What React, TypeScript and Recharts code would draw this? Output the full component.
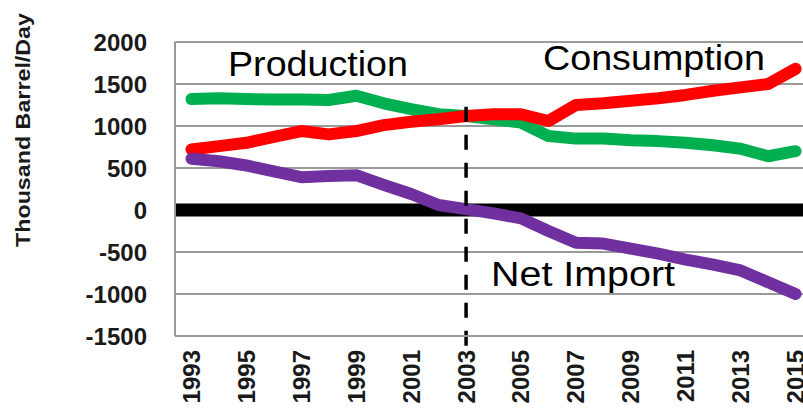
import React from 'react';
import { LineChart, Line, XAxis, YAxis, CartesianGrid, ReferenceLine } from 'recharts';

const years = [1993, 1994, 1995, 1996, 1997, 1998, 1999, 2000, 2001, 2002, 2003, 2004, 2005, 2006, 2007, 2008, 2009, 2010, 2011, 2012, 2013, 2014, 2015];
const production = [1320, 1330, 1320, 1315, 1315, 1310, 1360, 1270, 1200, 1140, 1120, 1080, 1040, 880, 850, 850, 830, 820, 800, 770, 730, 640, 700];
const consumption = [720, 760, 800, 870, 940, 900, 940, 1010, 1050, 1080, 1120, 1140, 1140, 1060, 1250, 1270, 1300, 1330, 1370, 1420, 1460, 1500, 1680];
const netImport = [610, 580, 530, 460, 390, 405, 415, 300, 190, 60, 10, -40, -100, -250, -390, -400, -460, -520, -590, -650, -720, -860, -1000];

const yTicks = [-1500, -1000, -500, 0, 500, 1000, 1500, 2000];
const xTicks = [1993, 1995, 1997, 1999, 2001, 2003, 2005, 2007, 2009, 2011, 2013, 2015];
const yAxisTitle = 'Thousand Barrel/Day';
const seriesLabels = { production: 'Production', consumption: 'Consumption', netImport: 'Net Import' };
const markerYear = 2003;

const data = years.map((year, i) => ({
  year,
  production: production[i],
  consumption: consumption[i],
  netImport: netImport[i],
}));

const FONT = '"Liberation Sans", Arial, sans-serif';
const TEXT = '#1a1a1a';
const GRID = '#9a9a9a';

const XTick = (props: any) => {
  const { x, y, payload } = props;
  return (
    <text
      x={x}
      y={y}
      transform={`rotate(-90 ${x} ${y})`}
      textAnchor="end"
      dominantBaseline="central"
      fontFamily={FONT}
      fontWeight="bold"
      fontSize={24}
      fill={TEXT}
    >
      {payload.value}
    </text>
  );
};

export default function App() {
  return (
    <div style={{ position: 'absolute', left: 0, top: 0, width: 803, height: 408, background: '#fff', overflow: 'hidden' }}>
      <LineChart width={803} height={408} data={data} margin={{ top: 42, right: 0, bottom: 0, left: 0 }}>
        <CartesianGrid vertical={false} stroke={GRID} strokeWidth={2} />
        <ReferenceLine y={0} stroke="#000" strokeWidth={13} />
        <XAxis
          dataKey="year"
          type="number"
          domain={[1992.4, 2015.27]}
          ticks={xTicks}
          interval={0}
          tickLine={false}
          axisLine={{ stroke: GRID, strokeWidth: 2 }}
          height={72}
          tickMargin={8}
          tick={<XTick />}
          allowDataOverflow
        />
        <YAxis
          domain={[-1500, 2000]}
          ticks={yTicks}
          interval={0}
          width={175}
          tickLine={false}
          tickSize={6}
          tickMargin={22}
          axisLine={{ stroke: GRID, strokeWidth: 2 }}
          tick={{ fontFamily: FONT, fontWeight: 'bold', fontSize: 24, fill: TEXT }}
          allowDataOverflow
        />
        <Line type="linear" dataKey="production" stroke="#00b050" strokeWidth={12} dot={false} isAnimationActive={false} strokeLinecap="round" strokeLinejoin="round" />
        <Line type="linear" dataKey="consumption" stroke="#ff0000" strokeWidth={12} dot={false} isAnimationActive={false} strokeLinecap="round" strokeLinejoin="round" />
        <Line type="linear" dataKey="netImport" stroke="#7030a0" strokeWidth={12} dot={false} isAnimationActive={false} strokeLinecap="round" strokeLinejoin="round" />
        <ReferenceLine
          segment={[{ x: markerYear, y: 1230 }, { x: markerYear, y: -1650 }]}
          stroke="#000"
          strokeWidth={3.5}
          strokeDasharray="15 13"
          ifOverflow="visible"
        />
      </LineChart>
      <svg width={803} height={408} style={{ position: 'absolute', left: 0, top: 0, pointerEvents: 'none' }}>
        <text
          x={22}
          y={130}
          transform="rotate(-90 22 130)"
          textAnchor="middle"
          dominantBaseline="central"
          fontFamily={FONT}
          fontWeight="bold"
          fontSize={21}
          textLength={234}
          lengthAdjust="spacingAndGlyphs"
          fill={TEXT}
        >
          {yAxisTitle}
        </text>
        <text x={228} y={76} fontFamily={FONT} fontSize={35} textLength={180} lengthAdjust="spacingAndGlyphs" fill="#000">{seriesLabels.production}</text>
        <text x={543} y={70} fontFamily={FONT} fontSize={35} textLength={222} lengthAdjust="spacingAndGlyphs" fill="#000">{seriesLabels.consumption}</text>
        <text x={491} y={286} fontFamily={FONT} fontSize={35} textLength={184} lengthAdjust="spacingAndGlyphs" fill="#000">{seriesLabels.netImport}</text>
      </svg>
    </div>
  );
}
